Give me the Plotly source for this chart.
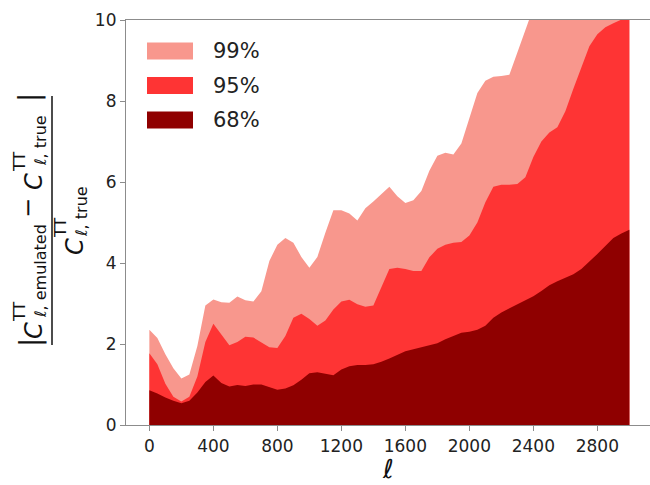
import plotly.graph_objects as go

# multipole grid
ell = list(range(0, 3001, 50))

# upper envelope of |C_emu - C_true| / C_true for each confidence level
band_99 = [2.35, 2.15, 1.75, 1.40, 1.15, 1.25, 1.95, 2.95, 3.10, 3.03,
           3.02, 3.17, 3.08, 3.05, 3.30, 4.05, 4.45, 4.62, 4.50, 4.15,
           3.88, 4.15, 4.75, 5.30, 5.30, 5.22, 5.05, 5.35, 5.52, 5.70,
           5.88, 5.65, 5.48, 5.55, 5.78, 6.28, 6.65, 6.72, 6.68, 6.95,
           7.55, 8.20, 8.50, 8.60, 8.62, 8.65, 9.20, 9.75, 10.3, 10.7,
           11.0, 11.2, 11.4, 11.6, 11.8, 12.0, 12.2, 12.4, 12.5, 12.7, 12.8]
band_95 = [1.77, 1.50, 1.02, 0.70, 0.58, 0.70, 1.20, 2.05, 2.50, 2.22,
           1.97, 2.05, 2.18, 2.16, 2.05, 1.92, 1.90, 2.20, 2.65, 2.75,
           2.62, 2.45, 2.58, 2.85, 3.05, 3.09, 2.98, 2.92, 2.95, 3.40,
           3.85, 3.88, 3.85, 3.80, 3.80, 4.14, 4.35, 4.45, 4.50, 4.52,
           4.68, 5.00, 5.50, 5.88, 5.93, 5.93, 5.95, 6.12, 6.62, 7.00,
           7.22, 7.35, 7.75, 8.30, 8.85, 9.35, 9.65, 9.82, 9.92, 10.0, 10.1]
band_68 = [0.86, 0.78, 0.68, 0.60, 0.54, 0.60, 0.80, 1.06, 1.22, 1.04,
           0.95, 0.99, 0.96, 1.00, 1.00, 0.93, 0.87, 0.90, 0.98, 1.12,
           1.28, 1.30, 1.27, 1.23, 1.37, 1.45, 1.48, 1.48, 1.50, 1.56,
           1.64, 1.74, 1.82, 1.87, 1.92, 1.97, 2.02, 2.12, 2.21, 2.28,
           2.30, 2.35, 2.45, 2.65, 2.78, 2.88, 2.97, 3.07, 3.18, 3.31,
           3.45, 3.55, 3.64, 3.72, 3.85, 4.03, 4.22, 4.42, 4.62, 4.73, 4.82]

levels = ["99%", "95%", "68%"]
bands = [band_99, band_95, band_68]
colors = ["#F8978D", "#FE3434", "#8F0000"]

x_ticks = [0, 400, 800, 1200, 1600, 2000, 2400, 2800]
y_ticks = [0, 2, 4, 6, 8, 10]

FONT = "DejaVu Sans"
W, H = 650, 485
L, R, T, B = 126, 0, 20, 60
PW, PH = W - L - R, H - T - B


def px(x):
    return (x - L) / PW


def py(y):
    return (H - B - y) / PH


fig = go.Figure()
for name, vals, col in zip(levels, bands, colors):
    fig.add_trace(go.Scatter(
        x=ell, y=vals, name=name, mode="lines", fill="tozeroy",
        fillcolor=col, line=dict(width=0, color=col), showlegend=False,
        hoverinfo="skip",
    ))

axis_col = "#8c8c8c"
fig.update_xaxes(
    range=[-146, 3129], tickvals=x_ticks, ticks="outside", ticklen=5,
    tickwidth=1.2, tickcolor=axis_col, showline=True, linecolor=axis_col,
    linewidth=1.2, mirror=True, showgrid=False, zeroline=False,
    tickfont=dict(family=FONT, size=17, color="#222222"),
)
fig.update_yaxes(
    range=[0, 10], tickvals=y_ticks, ticks="outside", ticklen=5,
    tickwidth=1.2, tickcolor=axis_col, showline=True, linecolor=axis_col,
    linewidth=1.2, mirror=False, showgrid=False, zeroline=False,
    tickfont=dict(family=FONT, size=17, color="#222222"),
)

annotations = []
shapes = []

# legend: swatches and labels
for i, (name, col) in enumerate(zip(levels, colors)):
    yc = 51 + 34.5 * i
    shapes.append(dict(type="rect", xref="paper", yref="paper",
                       x0=px(147), x1=px(193), y0=py(yc + 8.5), y1=py(yc - 8.5),
                       fillcolor=col, line=dict(width=0)))
    annotations.append(dict(text=name, xref="paper", yref="paper",
                            x=px(211), y=py(yc), xanchor="left", yanchor="middle",
                            showarrow=False,
                            font=dict(family=FONT, size=21, color="#222222")))

# x-axis label
annotations.append(dict(text="<i>ℓ</i>", xref="paper", yref="paper",
                        x=px(388), y=py(469), xanchor="center", yanchor="middle",
                        showarrow=False,
                        font=dict(family=FONT, size=26, color="#111111")))

# y-axis label: fraction built from rotated pieces
pieces = [
    ("|", 30, 343, 28),
    ("<i>C</i>", 34, 331, 24),
    ("TT", 19, 312, 16),
    ("<i>ℓ</i>, emulated", 40, 271, 16),
    ("−", 28, 208, 24),
    ("<i>C</i>", 34, 182, 24),
    ("TT", 19, 162, 16),
    ("<i>ℓ</i>, true", 40, 141, 16),
    ("|", 30, 98, 28),
    ("<i>C</i>", 75, 247, 24),
    ("TT", 61, 228, 16),
    ("<i>ℓ</i>, true", 81, 212, 16),
]
for txt, x, y, size in pieces:
    annotations.append(dict(text=txt, xref="paper", yref="paper",
                            x=px(x), y=py(y), xanchor="center", yanchor="middle",
                            textangle=-90, showarrow=False,
                            font=dict(family=FONT, size=size, color="#111111")))
shapes.append(dict(type="line", xref="paper", yref="paper",
                   x0=px(52), x1=px(52), y0=py(345), y1=py(96),
                   line=dict(color="#111111", width=1.5)))

fig.update_layout(
    width=W, height=H, autosize=False,
    margin=dict(l=L, r=R, t=T, b=B, pad=0),
    paper_bgcolor="white", plot_bgcolor="white",
    showlegend=False, annotations=annotations, shapes=shapes,
    font=dict(family=FONT),
)

fig.write_html("out.html")
